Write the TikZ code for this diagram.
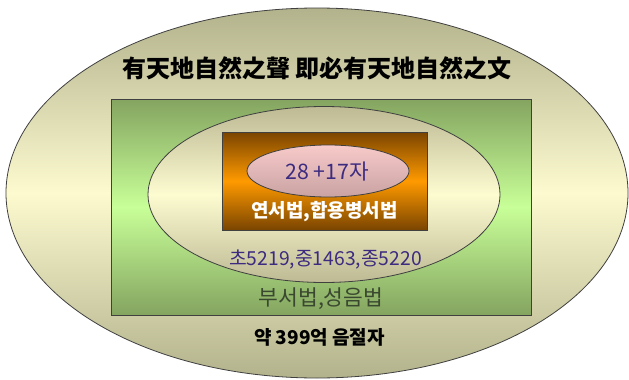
\documentclass[tikz,border=0pt]{standalone}
\usepackage{fontspec}
\setmainfont{Noto Sans CJK KR}
\newfontfamily\kr{Noto Sans CJK KR}
\usetikzlibrary{shapes.geometric}
\definecolor{outerEdge}{HTML}{B2B28C}
\definecolor{outerMid}{HTML}{FDFACF}
\definecolor{greenEdge}{HTML}{84A460}
\definecolor{greenMid}{HTML}{C8FF98}
\definecolor{midEdge}{HTML}{BDBA94}
\definecolor{midMid}{HTML}{FDFBD0}
\definecolor{brownEdge}{HTML}{7A4400}
\definecolor{orangeMid}{HTML}{FF9A00}
\definecolor{pinkTop}{HTML}{F8CACA}
\definecolor{pinkBot}{HTML}{C9A2A2}
\definecolor{txtPurple}{HTML}{3D2B80}
\definecolor{txtOlive}{HTML}{3A4830}
\definecolor{lineCol}{HTML}{404040}
\tikzset{
  shape3/.style={draw=lineCol, line width=0.8pt, inner sep=0pt, outer sep=0pt},
  lbl/.style={inner sep=0pt, font=\kr},
}
\begin{document}
\begin{tikzpicture}[x=1pt,y=-1pt]
\useasboundingbox (0,0) rectangle (629,380);
\fill[white] (0,0) rectangle (629,380);
\node[shape3, ellipse, minimum width=622, minimum height=370,
  top color=outerEdge, bottom color=outerEdge, middle color=outerMid] (outer) at (317,193) {};
\node[shape3, rectangle, minimum width=420, minimum height=216,
  top color=greenEdge, bottom color=greenEdge, middle color=greenMid] (green) at (321,207) {};
\node[shape3, ellipse, minimum width=352, minimum height=176,
  top color=midEdge, bottom color=midEdge, middle color=midMid] (mid) at (324,194.5) {};
\node[shape3, rectangle, minimum width=205, minimum height=98,
  top color=brownEdge, bottom color=brownEdge, middle color=orangeMid] (orange) at (324.5,181) {};
\node[shape3, ellipse, minimum width=162, minimum height=52,
  top color=pinkTop, bottom color=pinkBot] (pink) at (328,171) {};
\node[lbl, font=\kr\bfseries\fontsize{24}{26}\selectfont, text=black] (title) at (317,68) {有天地自然之聲 即必有天地自然之文};
\node[lbl, font=\kr\fontsize{21.3}{23}\selectfont, text=txtPurple] (n28) at (327,172) {28 +17자};
\node[lbl, font=\kr\bfseries\fontsize{19}{21}\selectfont, text=white] (yeon) at (324.5,212) {연서법,합용병서법};
\node[lbl, font=\kr\fontsize{19.3}{21}\selectfont, text=txtPurple] (cho) at (325.5,260) {초5219,중1463,종5220};
\node[lbl, font=\kr\fontsize{21.5}{23}\selectfont, text=txtOlive] (bu) at (321,299) {부서법,성음법};
\node[lbl, font=\kr\bfseries\fontsize{19}{21}\selectfont, text=black] (yak) at (319.5,337) {약 399억 음절자};
\end{tikzpicture}
\end{document}
